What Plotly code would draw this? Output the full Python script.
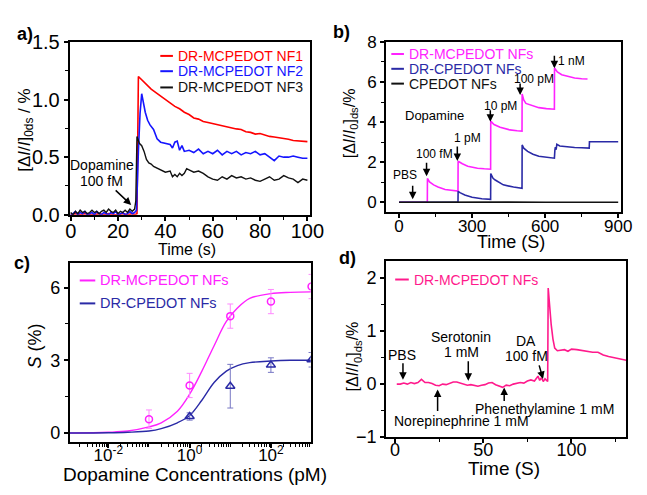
import plotly.graph_objects as go

W, H = 647, 495
FONT = "Arial, Liberation Sans, sans-serif"

# ---------------- Panel a data ----------------
a_t_nf1 = [0, 2, 4, 6, 8, 10, 12, 14, 16, 18, 20, 22, 24, 26, 27, 28, 28.6,
           30, 32, 34, 36, 38, 40, 42, 44, 46, 48, 50, 52, 54, 56, 58, 60, 62, 64, 66, 68,
           70, 72, 74, 76, 78, 80, 82, 84, 86, 88, 90, 92, 94, 96, 98, 100]
a_nf1 = [0.0, 0.01, 0.0, 0.01, 0.0, 0.0, 0.01, 0.0, 0.01, 0.0, 0.0, 0.01, 0.0, 0.01, 0.0, 0.01, 1.20,
         1.17, 1.13, 1.09, 1.06, 1.03, 1.00, 0.97, 0.94, 0.92, 0.89, 0.87, 0.84, 0.83, 0.81, 0.80, 0.79,
         0.78, 0.77, 0.76, 0.75, 0.745, 0.74, 0.72, 0.715, 0.70, 0.705, 0.69, 0.68, 0.675, 0.67, 0.66,
         0.655, 0.645, 0.64, 0.64, 0.635]

a_t_nf2 = [0, 1, 2, 3, 4, 5, 6, 7, 8, 9, 10, 11, 12, 13, 14, 15, 16, 17, 18, 19, 20, 21, 22, 23, 24, 25, 26, 27,
           27.8, 28.6, 29.3, 30, 30.7, 31.5, 32.5, 33.5, 35, 36.5, 38, 40, 42, 43, 44, 45, 46, 47, 48, 50,
           52, 54, 56, 58, 60, 62, 64, 66, 68, 70, 72, 74, 76, 78, 80, 82, 84, 86, 88, 90, 92, 94, 96, 98, 100]
a_nf2 = [0.0, 0.01, 0.03, 0.0, 0.02, 0.01, 0.03, 0.0, 0.01, 0.02, 0.0, 0.03, 0.01, 0.0, 0.02, 0.01, 0.0,
         0.02, 0.01, 0.03, 0.0, 0.01, 0.02, 0.0, 0.01, 0.03, 0.01, 0.02,
         0.04, 0.55, 0.88, 1.05, 0.96, 0.89, 0.82, 0.78, 0.74, 0.66, 0.63, 0.62, 0.61, 0.58, 0.63, 0.64,
         0.56, 0.60, 0.55, 0.56,
         0.54, 0.57, 0.53, 0.55, 0.53, 0.56, 0.52, 0.55, 0.53, 0.55, 0.52, 0.54, 0.53, 0.55, 0.52, 0.53,
         0.50, 0.47, 0.51, 0.50, 0.50, 0.51, 0.50, 0.49, 0.49]

a_t_nf3 = [0, 1, 2, 3, 4, 5, 6, 7, 8, 9, 10, 11, 12, 13, 14, 15, 16, 17, 18, 19, 20, 21, 22, 23, 24, 25, 26,
           27, 27.5, 28, 29, 30, 31, 32, 33, 34, 35, 36, 38, 40, 42, 43, 44, 45, 46, 47, 48, 49, 50,
           52, 54, 56, 58, 60, 62, 64, 66, 68, 70, 72, 74, 76, 78, 80, 82, 84, 86, 88, 90, 92, 94, 96, 98, 100]
a_nf3 = [0.02, 0.0, 0.03, 0.01, 0.04, 0.02, 0.03, 0.01, 0.02, 0.04, 0.02, 0.03, 0.01, 0.03, 0.04, 0.02,
         0.05, 0.03, 0.02, 0.04, 0.01, 0.03, 0.02, 0.04, 0.02, 0.05, 0.03,
         0.05, 0.12, 0.68, 0.62, 0.60, 0.55, 0.48, 0.45, 0.44, 0.42, 0.41, 0.39, 0.37, 0.38, 0.33, 0.35,
         0.33, 0.36, 0.34, 0.36, 0.40, 0.39,
         0.37, 0.38, 0.36, 0.33, 0.31, 0.30, 0.33, 0.31, 0.34, 0.32, 0.33, 0.31, 0.32, 0.30, 0.29, 0.31,
         0.33, 0.30, 0.31, 0.34, 0.32, 0.31, 0.28, 0.31, 0.30]

# ---------------- Panel b data ----------------
b_t_m = [0, 116, 116.5, 125, 142, 160, 189, 220, 242, 242.5, 260, 282, 322, 350, 376, 376.5, 390, 415,
         455, 485, 505, 505.5, 512, 521, 545, 574, 605, 636, 638, 638.5, 650, 668, 690, 721, 750, 774]
b_m = [0, 0, 1.19, 1.02, 0.87, 0.76, 0.64, 0.59, 0.56, 2.05, 1.92, 1.80, 1.70, 1.67, 1.65, 4.05, 3.88,
       3.74, 3.61, 3.57, 3.55, 5.40, 5.10, 4.93, 4.82, 4.72, 4.67, 4.64, 4.64, 6.70, 6.50, 6.36, 6.28,
       6.20, 6.16, 6.15]

b_t_c = [0, 242, 242.5, 250, 270, 300, 340, 376, 376.5, 386, 395, 428, 470, 505, 505.5, 512, 528, 550,
         574, 605, 634, 638, 640, 642, 645, 648, 660, 690, 721, 750, 781, 782, 840, 900]
b_c = [0, 0, 0.55, 0.48, 0.36, 0.25, 0.18, 0.15, 1.43, 1.20, 1.11, 0.87, 0.76, 0.70, 2.86, 2.70, 2.54,
       2.40, 2.30, 2.24, 2.19, 2.20, 2.60, 2.75, 2.62, 2.89, 2.81, 2.76, 2.73, 2.72, 2.70, 3.02, 3.01, 3.02]

b_t_p = [0, 150, 300, 450, 600, 750, 900]
b_p = [0, 0.01, 0, 0.01, 0, 0.01, 0]

# ---------------- Panel c data ----------------
c_conc_m = [0.1, 1, 10, 100, 1000]
c_s_m = [0.57, 1.96, 4.82, 5.42, 6.04]
c_err_m = [0.38, 0.5, 0.5, 0.5, 0.5]
c_conc_c = [1, 10, 100, 1000]
c_s_c = [0.68, 1.93, 2.80, 3.02]
c_err_c = [0.15, 0.9, 0.3, 0.3]
c_fit_x = [0.0011, 0.01, 0.03, 0.1, 0.2, 0.5, 1, 2, 4, 8, 15, 30, 100, 300, 1000]
c_fit_m = [0.0, 0.03, 0.08, 0.25, 0.42, 0.90, 1.60, 2.55, 3.60, 4.60, 5.15, 5.55, 5.75, 5.80, 5.82]
c_fit_c = [0.0, 0.01, 0.03, 0.08, 0.18, 0.42, 0.72, 1.35, 2.08, 2.55, 2.78, 2.90, 2.97, 3.0, 3.0]

# ---------------- Panel d data ----------------
d_t = [1, 3, 5, 7, 9, 11, 13, 15, 17, 19, 21, 23, 25, 27, 29, 31, 33, 35, 37, 39, 41, 43, 45, 47, 49,
       51, 53, 55, 57, 59, 61, 63, 65, 67, 69, 71, 73, 75, 77, 79, 81, 82, 83, 84, 85, 86.5, 86.8, 87.5,
       88.5, 89.5, 90.5, 92, 94, 96, 98, 100, 103, 106, 109, 112, 115, 118, 121, 124, 127, 130, 131]
d_v = [0.0, 0.0, 0.02, 0.0, 0.03, 0.01, 0.03, 0.09, 0.03, 0.03, 0.01, -0.02, -0.03, 0.0, -0.01, 0.02,
       0.04, 0.04, 0.02, 0.0, -0.02, -0.01, -0.03, -0.04, -0.02, -0.01, 0.02, 0.03, -0.01, -0.04, -0.06,
       -0.02, -0.03, 0.0, 0.02, 0.03, 0.02, 0.06, 0.08, 0.06, 0.15, 0.07, 0.12, 0.05, 0.10, 0.05, 1.81,
       1.50, 1.12, 0.85, 0.68, 0.63, 0.64, 0.65, 0.62, 0.66, 0.65, 0.63, 0.62, 0.60, 0.60, 0.55, 0.52,
       0.50, 0.49, 0.46, 0.45]

RED, BLUE, BLACK = "#ff0000", "#1515ff", "#111111"
MAG, NAVY, PINK = "#ff22ff", "#2a2aa6", "#ff1a8c"


def px(x):
    return x / W


def py(y):
    return 1 - y / H


fig = go.Figure()
# a
fig.add_trace(go.Scatter(x=a_t_nf1, y=a_nf1, mode="lines", line=dict(color=RED, width=1.6), xaxis="x", yaxis="y"))
fig.add_trace(go.Scatter(x=a_t_nf2, y=a_nf2, mode="lines", line=dict(color=BLUE, width=1.6), xaxis="x", yaxis="y"))
fig.add_trace(go.Scatter(x=a_t_nf3, y=a_nf3, mode="lines", line=dict(color=BLACK, width=1.4), xaxis="x", yaxis="y"))
# b
fig.add_trace(go.Scatter(x=b_t_m, y=b_m, mode="lines", line=dict(color=MAG, width=1.6), xaxis="x2", yaxis="y2"))
fig.add_trace(go.Scatter(x=b_t_c, y=b_c, mode="lines", line=dict(color=NAVY, width=1.6), xaxis="x2", yaxis="y2"))
fig.add_trace(go.Scatter(x=b_t_p, y=b_p, mode="lines", line=dict(color=BLACK, width=1.6), xaxis="x2", yaxis="y2"))
# c
fig.add_trace(go.Scatter(x=c_fit_x, y=c_fit_m, mode="lines", line=dict(color=MAG, width=1.4, shape="spline"), xaxis="x3", yaxis="y3"))
fig.add_trace(go.Scatter(x=c_fit_x, y=c_fit_c, mode="lines", line=dict(color=NAVY, width=1.4, shape="spline"), xaxis="x3", yaxis="y3"))
fig.add_trace(go.Scatter(x=c_conc_m, y=c_s_m, mode="markers",
                         marker=dict(symbol="circle-open", size=7, color=MAG, line=dict(width=1.5)),
                         error_y=dict(type="data", array=c_err_m, color="#ff88ff", thickness=1, width=3),
                         xaxis="x3", yaxis="y3"))
fig.add_trace(go.Scatter(x=c_conc_c, y=c_s_c, mode="markers",
                         marker=dict(symbol="triangle-up-open", size=8, color=NAVY, line=dict(width=1.5)),
                         error_y=dict(type="data", array=c_err_c, color="#7777c4", thickness=1, width=3),
                         xaxis="x3", yaxis="y3"))
# d
fig.add_trace(go.Scatter(x=d_t, y=d_v, mode="lines", line=dict(color=PINK, width=1.6), xaxis="x4", yaxis="y4"))


def axis(dom, rng, size, **kw):
    d = dict(domain=dom, range=rng, showline=True, linecolor="black", linewidth=2, mirror=True,
             ticks="outside", ticklen=4, tickwidth=1.5, tickcolor="black", showgrid=False,
             zeroline=False, tickfont=dict(family=FONT, size=size, color="black"))
    d.update(kw)
    return d


def minor(dt, t0=0):
    return dict(dtick=dt, tick0=t0, ticks="outside", ticklen=3, tickwidth=1.2, tickcolor="black", showgrid=False)


XSO = -7  # pull x tick labels closer to the axis, as in the reference

fig.update_layout(
    width=W, height=H, margin=dict(l=0, r=0, t=0, b=0), showlegend=False,
    paper_bgcolor="white", plot_bgcolor="white",
    font=dict(family=FONT, color="black"),
    xaxis=axis([px(66.7), px(314)], [-0.4, 101], 20, anchor="y", dtick=20, minor=minor(10),
               ticklabelstandoff=XSO),
    yaxis=axis([py(213.3), py(32.3)], [0, 1.5], 20, anchor="x", dtick=0.5, tickformat=".1f", minor=minor(0.25)),
    xaxis2=axis([px(392.7), px(635)], [-53, 913], 17, anchor="y2", dtick=300, minor=minor(150),
                ticklabelstandoff=XSO),
    yaxis2=axis([py(210.7), py(32.3)], [-0.5, 8], 17, anchor="x2", dtick=2, minor=minor(1)),
    xaxis3=axis([px(66.7), px(315)], [-2.95, 2.98], 17, anchor="y3", type="log",
                tickvals=[0.01, 1, 100], ticktext=["10<sup>-2</sup>", "10<sup>0</sup>", "10<sup>2</sup>"],
                ticklabelstandoff=XSO,
                minor=dict(tickmode="array",
                           tickvals=[m * 10 ** e for e in range(-3, 3) for m in range(1, 10)] + [1000],
                           ticks="outside", ticklen=3, tickwidth=1.2, tickcolor="black", showgrid=False)),
    yaxis3=axis([py(451), py(264)], [-0.37, 7.0], 18, anchor="x3", dtick=3, minor=minor(1.5)),
    xaxis4=axis([px(392.7), px(640)], [-5, 131], 18, anchor="y4", dtick=50, minor=minor(25),
                ticklabelstandoff=-9),
    yaxis4=axis([py(446), py(261.7)], [-1, 2.32], 18, anchor="x4", dtick=1, minor=minor(0.5)),
)

ann = []
shapes = []


def text(x, y, s, size=14, color="black", angle=0, bold=False, xanchor="center"):
    if bold:
        s = "<b>" + s + "</b>"
    ann.append(dict(x=px(x), y=py(y), xref="paper", yref="paper", text=s, showarrow=False,
                    font=dict(family=FONT, size=size, color=color), textangle=angle,
                    xanchor=xanchor, yanchor="middle", borderpad=0))


def arrow(x0, y0, x1, y1, width=1.5):
    # tail (x0,y0) -> head (x1,y1) in image pixels
    ann.append(dict(x=px(x1), y=py(y1), xref="paper", yref="paper", text="", showarrow=True,
                    ax=x0 - x1, ay=y0 - y1, arrowhead=2, arrowsize=1, arrowwidth=width,
                    arrowcolor="black"))


def leg(x0, x1, y, color, label, size):
    shapes.append(dict(type="line", xref="paper", yref="paper", x0=px(x0), x1=px(x1), y0=py(y), y1=py(y),
                       line=dict(color=color, width=2)))
    text(x1 + 4, y, label, size=size, color=color, xanchor="left")


# panel labels
text(21, 24, "a)", 18, bold=True)
text(347, 22, "b)", 18, bold=True)
text(17, 264, "c)", 18, bold=True)
text(353, 258, "d)", 18, bold=True)

# axis titles
text(188, 250, "Time (s)", 16)
text(521, 242, "Time (S)", 18)
text(196, 485, "Dopamine Concentrations (pM)", 19)
text(514, 479, "Time (S)", 19)
text(22, 124, "[Δ<i>I</i>/<i>I</i>]<sub>0ds</sub> / %", 17, angle=-90)
text(356, 118, "[Δ<i>I</i>/<i>I</i><sub>0</sub>]<sub>ds</sub>/%", 16, angle=-90)
text(31, 351, "<i>S</i> (%)", 18, angle=-90)
text(360, 361, "[Δ<i>I</i>/<i>I</i><sub>0</sub>]<sub>ds</sub>/%", 16, angle=-90)

# legends
leg(160, 173, 47, RED, "DR-MCPEDOT NF1", 14)
leg(160, 173, 63, BLUE, "DR-MCPEDOT NF2", 14)
leg(160, 173, 80, BLACK, "DR-MCPEDOT NF3", 14)
leg(398, 411, 45, MAG, "DR-MCPEDOT NFs", 14)
leg(398, 411, 60.5, NAVY, "DR-CPEDOT NFs", 14)
leg(398, 411, 76, BLACK, "CPEDOT NFs", 14)
leg(77, 93, 282, MAG, "DR-MCPEDOT NFs", 14.5)
leg(77, 93, 306, NAVY, "DR-CPEDOT NFs", 14.5)
leg(402, 416, 281, PINK, "DR-MCPEDOT NFs", 14)

# panel a annotation
text(100, 161, "Dopamine", 14)
text(99, 178, "100 fM", 14)
arrow(113, 187, 130, 203)

# panel b annotations
text(412, 172, "PBS", 12)
arrow(420, 182, 420, 197)
text(442, 150, "100 fM", 12)
arrow(434.3, 158, 434.3, 173)
text(477, 133, "1 pM", 12)
arrow(466, 141, 466, 157)
text(443, 109, "Dopamine", 13)
text(510, 99, "10 pM", 12)
arrow(500, 103, 500, 116)
text(545, 71, "100 pM", 12)
arrow(530.7, 75, 530.7, 88)
text(584, 52, "1 nM", 12)
arrow(566, 46, 566, 60)

# panel d annotations
text(409, 360, "PBS", 14)
arrow(410, 368, 410, 386)
text(470, 341, "Serotonin", 14)
text(470, 357, "1 mM", 14)
arrow(477.3, 366, 477.3, 387)
text(537, 345, "DA", 14)
text(537, 361, "100 fM", 14)
arrow(550, 370, 554.3, 385)
text(470, 429, "Norepinephrine 1 mM", 14)
arrow(445.7, 419, 445.7, 396)
text(556, 417, "Phenethylamine 1 mM", 14)
arrow(514.3, 409, 514.3, 394)

fig.update_layout(annotations=ann, shapes=shapes)
fig.write_html("out.html", config={"displayModeBar": False})
